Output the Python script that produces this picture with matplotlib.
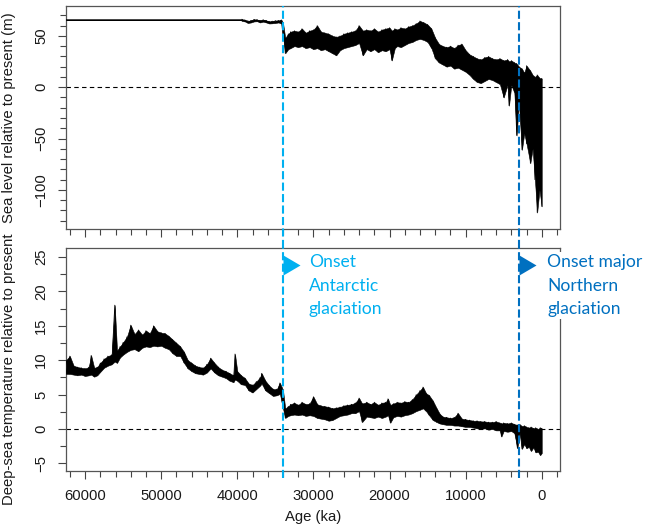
import numpy as np
import matplotlib
matplotlib.use("Agg")
import matplotlib.pyplot as plt
from matplotlib.path import Path
from matplotlib.ticker import MultipleLocator

plt.rcParams['font.family'] = ['Liberation Sans', 'DejaVu Sans']

# deep-sea temperature: age (ka), lower and upper edge of the noisy band
temp_age = [62500, 62000, 61500, 61000, 60500, 60000, 59500, 59200, 58800, 58400,
            58000, 57500, 57000, 56500, 56100, 55800, 55400, 55000, 54500, 54000,
            53500, 53000, 52500, 52000, 51500, 51000, 50500, 50000, 49500, 49000,
            48500, 48000, 47500, 47000, 46500, 46000, 45500, 45000, 44500, 44000,
            43500, 43000, 42500, 42000, 41500, 41000, 40500, 40300, 40000, 39500,
            39000, 38500, 38000, 37500, 37000, 36800, 36300, 35800, 35300, 34800,
            34400, 34000, 33700, 33300, 33000, 32500, 32000, 31500, 31000, 30500,
            30000, 29500, 29000, 28500, 28000, 27500, 27000, 26500, 26000, 25500,
            25000, 24500, 24000, 23600, 23000, 22500, 22000, 21500, 21000, 20500,
            20200, 19900, 19500, 19000, 18500, 18000, 17500, 17000, 16500, 16000,
            15600, 15200, 14800, 14300, 13800, 13400, 13000, 12500, 12000, 11500,
            11000, 10500, 10000, 9500, 9000, 8500, 8000, 7500, 7000, 6500,
            6000, 5500, 5300, 5000, 4500, 4000, 3600, 3200, 2900, 2600,
            2300, 2000, 1700, 1400, 1100, 800, 500, 200, 0]
temp_lo = [8.0, 8.0, 7.9, 7.8, 7.9, 7.7, 7.8, 7.9, 7.6, 7.8,
           8.3, 8.9, 9.2, 9.4, 9.8, 9.6, 10.4, 10.8, 11.2, 11.5,
           11.6, 11.3, 11.8, 12.0, 11.9, 12.1, 12.0, 12.1, 11.8, 11.6,
           11.0, 10.6, 10.6, 9.6, 8.8, 8.4, 8.1, 8.0, 7.9, 8.2,
           8.8, 8.2, 7.8, 7.6, 7.4, 7.0, 6.8, 7.2, 7.0, 6.5,
           6.4, 5.6, 5.3, 5.8, 6.3, 6.6, 5.6, 5.2, 4.8, 4.9,
           5.1, 3.0, 1.6, 1.9, 2.0, 2.1, 2.0, 2.1, 1.9, 2.0,
           1.9, 1.6, 1.5, 1.4, 1.2, 1.3, 1.6, 1.9, 2.0, 2.1,
           2.3, 2.3, 2.6, 1.0, 1.8, 1.7, 1.6, 1.8, 1.6, 1.8,
           2.0, 0.9, 1.7, 1.9, 1.8, 2.0, 2.1, 2.3, 2.6, 2.8,
           3.0, 2.6, 2.0, 1.3, 1.0, 0.8, 0.7, 0.6, 0.6, 0.5,
           0.5, 0.4, 0.3, 0.3, 0.2, 0.1, 0.0, 0.1, -0.1, 0.0,
           -0.2, -0.2, -1.1, -0.3, -0.4, -0.3, -0.6, -2.8, -0.5, -2.9,
           -2.2, -2.8, -2.6, -3.2, -2.7, -3.4, -3.3, -3.8, -3.5]
temp_hi = [10.0, 10.6, 9.2, 9.0, 8.9, 8.8, 9.0, 10.7, 8.9, 9.0,
           9.6, 10.2, 10.6, 10.8, 18.0, 11.4, 12.0, 12.6, 13.4, 15.1,
           13.8, 14.4, 13.7, 14.3, 13.9, 15.0, 14.2, 14.0, 13.9, 13.5,
           13.0, 12.5, 12.0, 11.2, 10.0, 9.6, 9.2, 9.0, 8.9, 9.4,
           10.3, 9.6, 9.0, 8.6, 8.4, 8.1, 7.8, 10.9, 8.4, 7.8,
           7.4, 6.6, 6.4, 6.9, 7.5, 8.1, 7.0, 6.3, 5.8, 5.8,
           6.7, 5.7, 3.0, 3.3, 3.6, 3.8, 3.5, 3.9, 3.6, 3.7,
           4.7, 3.6, 3.4, 3.3, 3.2, 3.0, 3.1, 3.2, 3.4, 3.5,
           3.6, 3.8, 4.5, 3.7, 3.9, 3.6, 3.9, 3.5, 3.8, 3.9,
           4.4, 3.5, 3.7, 3.9, 3.8, 4.0, 3.9, 4.3, 5.0, 5.6,
           6.1, 5.2, 4.9, 4.1, 3.0, 2.2, 1.8, 1.7, 1.6, 1.7,
           2.3, 1.5, 1.4, 1.3, 1.2, 1.2, 1.1, 1.1, 1.0, 1.0,
           1.1, 0.9, 0.8, 0.9, 0.8, 0.9, 0.7, 0.6, 0.7, 0.4,
           0.5, 0.3, 0.2, 0.3, 0.1, 0.2, 0.0, 0.2, 0.1]

# sea level: age (ka), lower and upper edge of the noisy band
sea_age = [62500, 39500, 39400, 39000, 38600, 38200, 37800, 37400, 37000, 36600,
           36200, 35800, 35400, 35000, 34600, 34200, 34000, 33700, 33300, 33000,
           32500, 32000, 31500, 31000, 30500, 30000, 29500, 29000, 28500, 28000,
           27500, 27000, 26500, 26000, 25500, 25000, 24500, 24000, 23500, 23000,
           22500, 22000, 21500, 21000, 20500, 20000, 19700, 19300, 19000, 18500,
           18000, 17500, 17000, 16500, 16000, 15500, 15000, 14500, 14000, 13500,
           13000, 12500, 12000, 11500, 11000, 10500, 10000, 9500, 9000, 8500,
           8000, 7500, 7000, 6500, 6000, 5500, 5000, 4500, 4300, 4000,
           3600, 3300, 3000, 2600, 2300, 2000, 1500, 1200, 900, 600,
           300, 0]
sea_lo = [65.5, 65.5, 64.5, 64.0, 62.5, 63.0, 64.0, 64.2, 63.0, 63.8,
          63.0, 62.0, 62.2, 62.5, 63.0, 62.0, 50.0, 33.0, 37.0, 38.0,
          40.0, 39.0, 40.0, 38.0, 39.0, 37.0, 38.0, 36.0, 37.0, 35.0,
          33.0, 31.0, 36.0, 38.0, 39.0, 40.0, 41.0, 43.0, 31.0, 37.0,
          35.0, 37.0, 34.0, 36.0, 35.0, 37.0, 26.0, 38.0, 40.0, 39.0,
          41.0, 43.0, 44.0, 46.0, 47.0, 46.0, 44.0, 38.0, 28.0, 24.0,
          22.0, 20.0, 21.0, 18.0, 19.0, 17.0, 15.0, 12.0, 8.0, 5.0,
          4.0, 6.0, 8.0, 7.0, 5.0, 3.0, -10.0, 2.0, -18.0, 2.0,
          -5.0, -47.0, -15.0, -61.0, -45.0, -55.0, -74.0, -60.0, -90.0, -122.0,
          -100.0, -116.0]
sea_hi = [65.5, 65.5, 66.2, 65.5, 64.5, 65.0, 66.0, 65.8, 65.0, 65.7,
          65.0, 64.0, 64.3, 64.8, 65.0, 65.5, 63.0, 48.0, 52.0, 54.0,
          55.0, 54.0, 57.0, 53.0, 55.0, 56.0, 60.0, 54.0, 53.0, 52.0,
          50.0, 49.0, 50.0, 52.0, 53.0, 54.0, 55.0, 60.0, 55.0, 56.0,
          55.0, 57.0, 54.0, 56.0, 57.0, 58.0, 55.0, 57.0, 56.0, 58.0,
          57.0, 59.0, 60.0, 62.0, 64.5, 63.0, 61.0, 57.0, 48.0, 42.0,
          40.0, 39.0, 40.0, 38.0, 41.0, 42.0, 36.0, 32.0, 30.0, 28.0,
          27.0, 29.0, 30.0, 28.0, 27.0, 28.0, 26.0, 27.0, 25.0, 26.0,
          24.0, 23.0, 20.0, 18.0, 14.0, 21.0, 16.0, 12.0, 10.0, 12.0,
          9.0, 8.5]

onset_ages = [34000, 3000]
onset_labels = ["Onset\nAntarctic\nglaciation", "Onset major\nNorthern\nglaciation"]
onset_colors = ["#00B0F0", "#0070C0"]

x_ticks = [60000, 50000, 40000, 30000, 20000, 10000, 0]

fig = plt.figure(figsize=(6.48, 5.28), dpi=100)
ax1 = fig.add_axes([0.1019, 0.5663, 0.7623, 0.4223])
ax2 = fig.add_axes([0.1019, 0.1080, 0.7623, 0.4223])


def draw_band(ax, age, lo, hi):
    age = np.asarray(age)
    lo = np.asarray(lo)
    hi = np.asarray(hi)
    ax.fill_between(age, lo, hi, color="black", lw=0.4, zorder=3)
    # sawtooth between the two edges for a ragged look
    even = np.arange(len(age)) % 2 == 0
    ax.plot(age, np.where(even, hi, lo), color="black", lw=0.5, zorder=3)
    ax.plot(age, np.where(even, lo, hi), color="black", lw=0.5, zorder=3)


draw_band(ax1, sea_age, sea_lo, sea_hi)
draw_band(ax2, temp_age, temp_lo, temp_hi)

ax1.set_ylim(-138, 79)
ax2.set_ylim(-6.1, 26.3)

for ax in (ax1, ax2):
    ax.set_xlim(62500, -2400)
    ax.axhline(0, color="black", lw=0.8, ls=(0, (4, 3)), zorder=2)
    ax.xaxis.set_major_locator(MultipleLocator(10000))
    ax.xaxis.set_minor_locator(MultipleLocator(2000))
    ax.tick_params(which="major", length=6, width=0.8, color="#444444",
                   labelsize=10.7, labelcolor="#1a1a1a", pad=7)
    ax.tick_params(which="minor", length=4, width=0.8, color="#444444")
    ax.tick_params(axis="y", labelrotation=90)
    for sp in ax.spines.values():
        sp.set_color("#555555")
        sp.set_linewidth(0.9)

ax1.set_xticks(x_ticks)
ax1.set_xticklabels([])
ax2.set_xticks(x_ticks)
ax2.set_xticklabels([str(t) for t in x_ticks])
for lab in ax2.get_yticklabels() + ax1.get_yticklabels():
    lab.set_va("center")

ax1.yaxis.set_major_locator(MultipleLocator(50))
ax1.yaxis.set_minor_locator(MultipleLocator(10))
ax2.yaxis.set_major_locator(MultipleLocator(5))
ax2.yaxis.set_minor_locator(MultipleLocator(2.5))

ax1.set_ylabel("Sea level relative to present (m)", fontsize=10.7, color="#1a1a1a")
ax1.yaxis.set_label_coords(-0.101, 0.5)
ax2.set_ylabel("Deep-sea temperature relative to present", fontsize=10.7, color="#1a1a1a")
ax2.yaxis.set_label_coords(-0.101, 0.457)
ax2.set_xlabel("Age (ka)", fontsize=10.7, color="#1a1a1a", labelpad=5)

# onset lines, triangles and labels
tri = Path([(0, -1.0), (0, 1.0), (1.7, 0), (0, -1.0)],
           [Path.MOVETO, Path.LINETO, Path.LINETO, Path.CLOSEPOLY])
text_x = [30600, -700]
for age, lab, col, tx in zip(onset_ages, onset_labels, onset_colors, text_x):
    ax1.axvline(age, ymin=-0.085, ymax=1, color=col, lw=1.5,
                ls=(0, (3.9, 1.6)), clip_on=False, zorder=4)
    ax2.axvline(age, ymin=-0.03, ymax=1, color=col, lw=1.5,
                ls=(0, (3.9, 1.6)), clip_on=False, zorder=4)
    ax2.plot([age], [23.8], marker=tri, ms=24.5, color=col, mec="none",
             clip_on=False, zorder=5)
    bbox = None
    if tx < 0:
        bbox = dict(facecolor="white", edgecolor="none", pad=1.5)
    ax2.text(tx, 25.4, lab, color=col, fontsize=12.6, family=["Lato", "DejaVu Sans"],
             ha="left", va="top", linespacing=1.57, zorder=6, bbox=bbox)

fig.savefig("out.png", dpi=100)
